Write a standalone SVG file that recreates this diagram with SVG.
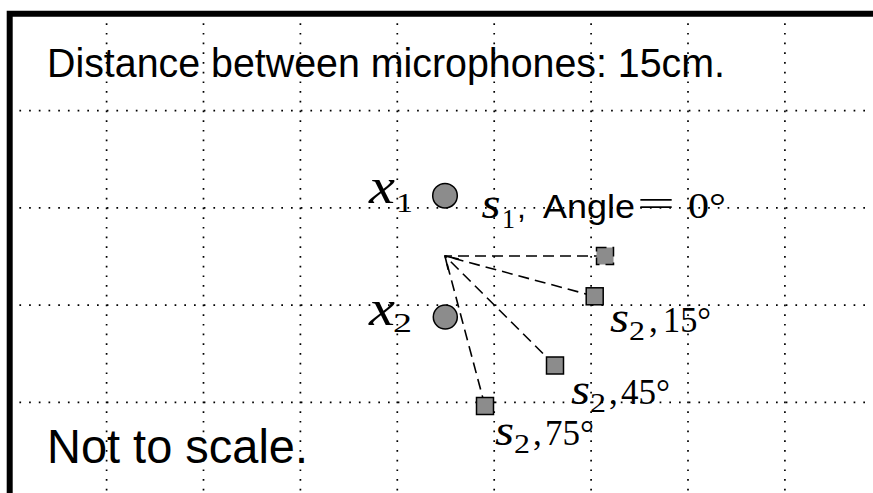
<svg xmlns="http://www.w3.org/2000/svg" width="873" height="493" viewBox="0 0 873 493">
<defs>
<style>
.grid{stroke:#000;stroke-width:1.7;stroke-dasharray:1.7 8;fill:none}
.frame{stroke:#000;stroke-width:6;fill:none;stroke-linejoin:miter}
.conn{stroke:#000;stroke-width:1.6;stroke-dasharray:11 6;fill:none}
.mic{fill:#8c8c8c;stroke:#000;stroke-width:1.5}
.src{fill:#8c8c8c;stroke:#000;stroke-width:1.5}
.sans{font-family:"Liberation Sans",Arial,sans-serif;fill:#000}
.mi{font-family:"Liberation Serif","Times New Roman",serif;font-style:italic;fill:#000}
.rm{font-family:"Liberation Serif","Times New Roman",serif;fill:#000}
</style>
<marker id="arr" markerUnits="userSpaceOnUse" markerWidth="30" markerHeight="30" viewBox="-15 -15 30 30" refX="0" refY="0" orient="auto">
<path d="M-12,-7.5 L0,0 L-12,7.5" fill="none" stroke="#000" stroke-width="1.6"/>
</marker>
</defs>
<rect width="873" height="493" fill="#fff"/>
<g id="grid">
<path class="grid" d="M9.7,110.7H873M9.7,207.9H873M9.7,305.1H873M9.7,402.3H873"/>
<path class="grid" d="M106.6,13.5V493M203.5,13.5V493M300.4,13.5V493M397.3,13.5V493M494.2,13.5V493M591.1,13.5V493M688,13.5V493M784.9,13.5V493"/>
</g>
<g id="frame">
<path class="frame" d="M9.7,500V13.7H880"/>
</g>
<g id="title">
<text class="sans" x="47" y="77.3" font-size="41" textLength="678" lengthAdjust="spacingAndGlyphs">Distance between microphones: 15cm.</text>
</g>
<g id="note">
<text class="sans" x="47" y="463.3" font-size="49" textLength="261" lengthAdjust="spacingAndGlyphs">Not to scale.</text>
</g>
<g id="connectors">
<line class="conn" x1="605" y1="256" x2="445" y2="256"/>
<line class="conn" x1="594.7" y1="296.3" x2="445" y2="256"/>
<line class="conn" x1="555" y1="365.5" x2="445" y2="256" marker-end="url(#arr)"/>
<line class="conn" x1="485" y1="406" x2="445" y2="256"/>
</g>
<g id="mic-x1">
<circle class="mic" cx="445" cy="195.7" r="12.3"/>
<text class="mi" x="369" y="203" font-size="50" textLength="26" lengthAdjust="spacingAndGlyphs">x</text>
<text class="rm" x="396" y="211.7" font-size="28" textLength="17" lengthAdjust="spacingAndGlyphs">1</text>
</g>
<g id="mic-x2">
<circle class="mic" cx="445.3" cy="317" r="12"/>
<text class="mi" x="369" y="325" font-size="50" textLength="26" lengthAdjust="spacingAndGlyphs">x</text>
<text class="rm" x="393" y="332.3" font-size="28" textLength="19" lengthAdjust="spacingAndGlyphs">2</text>
</g>
<g id="src-s1">
<rect class="src" x="596.5" y="247.5" width="17" height="17" stroke-dasharray="10 6"/>
<text class="mi" x="481.5" y="218.3" font-size="44" textLength="19" lengthAdjust="spacingAndGlyphs">s</text>
<text class="rm" x="502" y="227.5" font-size="28" textLength="13" lengthAdjust="spacingAndGlyphs">1</text>
<text class="sans" x="517" y="218.3" font-size="32">,</text>
<text class="sans" x="543" y="218.3" font-size="33" textLength="92" lengthAdjust="spacingAndGlyphs">Angle</text>
<text class="rm" x="637" y="216" font-size="36" textLength="38" lengthAdjust="spacingAndGlyphs">=</text>
<text class="rm" x="688" y="218.3" font-size="35" textLength="38" lengthAdjust="spacingAndGlyphs">0°</text>
</g>
<g id="src-s2-15">
<rect class="src" x="586.2" y="287.8" width="17" height="17"/>
<text class="mi" x="610" y="332" font-size="44" textLength="19" lengthAdjust="spacingAndGlyphs">s</text>
<text class="rm" x="629" y="340" font-size="28" textLength="16" lengthAdjust="spacingAndGlyphs">2</text>
<text class="rm" x="649" y="332" font-size="35">,</text>
<text class="rm" x="663" y="332" font-size="35" textLength="48" lengthAdjust="spacingAndGlyphs">15°</text>
</g>
<g id="src-s2-45">
<rect class="src" x="546.5" y="357" width="17" height="17"/>
<text class="mi" x="571" y="404" font-size="44" textLength="19" lengthAdjust="spacingAndGlyphs">s</text>
<text class="rm" x="590" y="412" font-size="28" textLength="16" lengthAdjust="spacingAndGlyphs">2</text>
<text class="rm" x="609" y="404" font-size="35">,</text>
<text class="rm" x="621" y="404" font-size="35" textLength="49" lengthAdjust="spacingAndGlyphs">45°</text>
</g>
<g id="src-s2-75">
<rect class="src" x="476.5" y="397.5" width="17" height="17"/>
<text class="mi" x="495" y="445" font-size="44" textLength="19" lengthAdjust="spacingAndGlyphs">s</text>
<text class="rm" x="514" y="453" font-size="28" textLength="16" lengthAdjust="spacingAndGlyphs">2</text>
<text class="rm" x="533" y="445" font-size="35">,</text>
<text class="rm" x="545" y="445" font-size="35" textLength="49" lengthAdjust="spacingAndGlyphs">75°</text>
</g>
</svg>
